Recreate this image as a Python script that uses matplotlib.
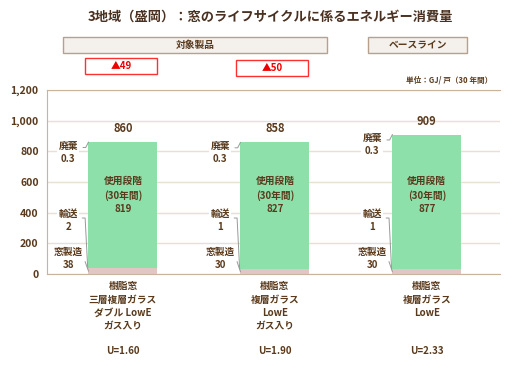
import matplotlib.pyplot as plt
from matplotlib.patches import Rectangle

plt.rcParams['font.family'] = ['Noto Sans CJK JP', 'DejaVu Sans']

# data
products = ['樹脂窓\n三層複層ガラス\nダブル LowE\nガス入り',
            '樹脂窓\n複層ガラス\nLowE\nガス入り',
            '樹脂窓\n複層ガラス\nLowE']
u_values = ['U=1.60', 'U=1.90', 'U=2.33']
manufacture = [38, 30, 30]
transport = [2, 1, 1]
use_stage = [819, 827, 877]
disposal = [0.3, 0.3, 0.3]
totals = [860, 858, 909]
reductions = [49, 50]
yticks = [0, 200, 400, 600, 800, 1000, 1200]

txt = '#5a3a1c'
green = '#8ee0aa'
pink = '#e2c6c6'

fig = plt.figure(figsize=(5.25, 3.70), dpi=100)
ax = fig.add_axes([0.0895, 0.2595, 0.8625, 0.4973])

x = range(len(totals))
w = 0.454
bot2 = [m + t for m, t in zip(manufacture, transport)]
bot3 = [b + u for b, u in zip(bot2, use_stage)]
ax.bar(x, manufacture, w, color=pink, zorder=2)
ax.bar(x, transport, w, bottom=manufacture, color='#8a8a9a', zorder=2)
ax.bar(x, use_stage, w, bottom=bot2, color=green, zorder=2)
ax.bar(x, disposal, w, bottom=bot3, color=green, zorder=2)

ax.set_xlim(-0.5, 2.48)
ax.set_ylim(0, 1200)
ax.set_yticks(yticks)
ax.set_yticklabels(['{:,}'.format(v) for v in yticks], fontsize=7.5,
                   color=txt, fontweight='bold')
ax.set_xticks([])
ax.tick_params(axis='y', length=0, pad=6)
ax.grid(axis='y', color='#e8e0d6', linewidth=1, zorder=0)
for s in ['left', 'bottom', 'top']:
    ax.spines[s].set_color('#c8b49a')
ax.spines['right'].set_visible(False)

box = dict(facecolor='white', edgecolor='none', pad=1)
lc = dict(color='#999999', linewidth=0.7, zorder=3)
for i in x:
    left = i - w / 2
    ax.annotate(str(totals[i]), xy=(i, totals[i]), xytext=(0, 5),
                textcoords='offset points', ha='center', va='bottom',
                fontsize=8, color=txt, fontweight='bold')
    ax.text(i, 515, '使用段階\n(30年間)\n' + str(use_stage[i]), ha='center',
            va='center', fontsize=7, color=txt, fontweight='bold', linespacing=1.45)
    # left side labels
    ax.text(i - 0.36, totals[i] + 8, '廃棄\n' + str(disposal[i]), ha='center',
            va='top', fontsize=7, color=txt, fontweight='bold',
            linespacing=1.35, bbox=box, zorder=3)
    ax.text(i - 0.36, 422, '輸送\n' + str(transport[i]), ha='center',
            va='top', fontsize=7, color=txt, fontweight='bold',
            linespacing=1.35, bbox=box, zorder=3)
    ax.text(i - 0.36, 175, '窓製造\n' + str(manufacture[i]), ha='center',
            va='top', fontsize=7, color=txt, fontweight='bold',
            linespacing=1.35, bbox=box, zorder=3)
    # leader lines
    ax.plot([left - 0.035, left - 0.018, left], [totals[i] - 35, totals[i] - 35, totals[i]], **lc)
    ax.plot([left - 0.04, left - 0.022, left - 0.005], [365, 365, manufacture[i] + 1], **lc)
    ax.plot([left - 0.022, left], [80, manufacture[i] / 2], **lc)
    # category labels
    ax.annotate(products[i], xy=(i, 0), xytext=(0, -5), textcoords='offset points',
                ha='center', va='top', fontsize=7, color=txt, fontweight='bold',
                linespacing=1.45, annotation_clip=False)
    ax.annotate(u_values[i], xy=(i, 0), xytext=(0, -52), textcoords='offset points',
                ha='center', va='top', fontsize=7, color=txt, fontweight='bold',
                annotation_clip=False)

# title and header boxes
fig.text(0.516, 0.954, '3地域（盛岡）：窓のライフサイクルに係るエネルギー消費量',
         ha='center', va='center', fontsize=9.5, color='#4a3020', fontweight='bold')


def header(x0, x1, y0, y1, label, fc, ec, tc):
    fig.patches.append(Rectangle((x0 / 525, 1 - y1 / 370), (x1 - x0) / 525,
                                 (y1 - y0) / 370, transform=fig.transFigure,
                                 facecolor=fc, edgecolor=ec, linewidth=1))
    fig.text((x0 + x1) / 2 / 525, 1 - (y0 + y1) / 2 / 370, label, ha='center',
             va='center', fontsize=7, color=tc, fontweight='bold')


header(63, 327, 37, 53, '対象製品', '#f4f0ec', '#b8a08a', txt)
header(368, 467, 37, 53, 'ベースライン', '#f4f0ec', '#b8a08a', txt)
header(85, 157, 58, 74, '▲' + str(reductions[0]), 'white', '#ff3030', '#ee0000')
header(236, 308, 60, 76, '▲' + str(reductions[1]), 'white', '#ff3030', '#ee0000')

fig.text(0.937, 0.784, '単位：GJ/ 戸（30 年間）', ha='right', va='center',
         fontsize=5.5, color=txt, fontweight='bold')

fig.savefig('out.png', dpi=100)
